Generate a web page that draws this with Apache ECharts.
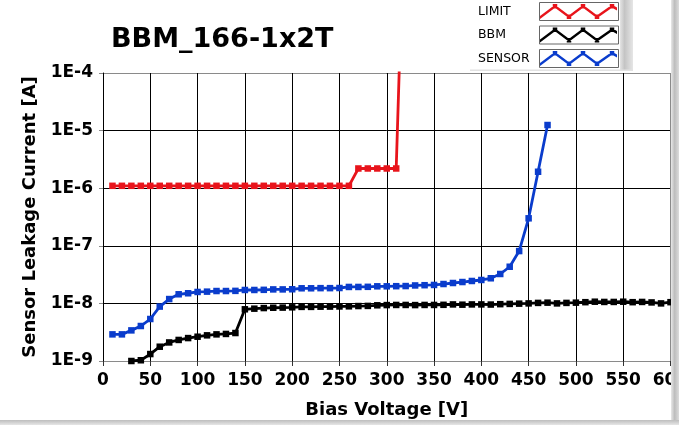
<!DOCTYPE html>
<html>
<head>
<meta charset="utf-8">
<script src="https://cdn.jsdelivr.net/npm/echarts@6/dist/echarts.min.js"></script>
<style>
html,body{margin:0;padding:0;background:#fff;}
#c{width:679px;height:425px;}
</style>
</head>
<body>
<div id="c"></div>
<script>
// ---- data ----
var xTicks = [0, 50, 100, 150, 200, 250, 300, 350, 400, 450, 500, 550, 600];
var yTickLabels = ['1E-9', '1E-8', '1E-7', '1E-6', '1E-5', '1E-4'];

var limitVoltage = [10,20,30,40,50,60,70,80,90,100,110,120,130,140,150,160,170,180,190,200,210,220,230,240,250,260,270,280,290,300,310,315];
var limitCurrent = [1.1e-6,1.1e-6,1.1e-6,1.1e-6,1.1e-6,1.1e-6,1.1e-6,1.1e-6,1.1e-6,1.1e-6,1.1e-6,1.1e-6,1.1e-6,1.1e-6,1.1e-6,1.1e-6,1.1e-6,1.1e-6,1.1e-6,1.1e-6,1.1e-6,1.1e-6,1.1e-6,1.1e-6,1.1e-6,1.1e-6,2.2e-6,2.2e-6,2.2e-6,2.2e-6,2.2e-6,1e-3];

var bbmVoltage = [30,40,50,60,70,80,90,100,110,120,130,140,150,160,170,180,190,200,210,220,230,240,250,260,270,280,290,300,310,320,330,340,350,360,370,380,390,400,410,420,430,440,450,460,470,480,490,500,510,520,530,540,550,560,570,580,590,600];
var bbmCurrent = [1.0e-9,1.03e-9,1.32e-9,1.77e-9,2.1e-9,2.32e-9,2.5e-9,2.64e-9,2.79e-9,2.9e-9,2.95e-9,3.06e-9,7.9e-9,8.1e-9,8.3e-9,8.4e-9,8.45e-9,8.55e-9,8.7e-9,8.7e-9,8.77e-9,8.8e-9,8.85e-9,8.9e-9,9.0e-9,9.05e-9,9.27e-9,9.35e-9,9.4e-9,9.4e-9,9.35e-9,9.4e-9,9.4e-9,9.45e-9,9.6e-9,9.5e-9,9.6e-9,9.6e-9,9.55e-9,9.7e-9,9.8e-9,9.9e-9,1.0e-8,1.02e-8,1.03e-8,1.0e-8,1.02e-8,1.03e-8,1.05e-8,1.07e-8,1.06e-8,1.06e-8,1.07e-8,1.05e-8,1.06e-8,1.04e-8,1.0e-8,1.05e-8];

var sensorVoltage = [10,20,30,40,50,60,70,80,90,100,110,120,130,140,150,160,170,180,190,200,210,220,230,240,250,260,270,280,290,300,310,320,330,340,350,360,370,380,390,400,410,420,430,440,450,460,470];
var sensorCurrent = [2.9e-9,2.9e-9,3.4e-9,4.05e-9,5.36e-9,8.8e-9,1.19e-8,1.44e-8,1.5e-8,1.58e-8,1.6e-8,1.64e-8,1.64e-8,1.65e-8,1.71e-8,1.71e-8,1.72e-8,1.75e-8,1.75e-8,1.76e-8,1.83e-8,1.83e-8,1.84e-8,1.84e-8,1.85e-8,1.93e-8,1.93e-8,1.94e-8,1.98e-8,1.98e-8,1.99e-8,2.0e-8,2.05e-8,2.07e-8,2.09e-8,2.17e-8,2.26e-8,2.35e-8,2.45e-8,2.55e-8,2.73e-8,3.24e-8,4.33e-8,8.1e-8,3.0e-7,1.93e-6,1.25e-5];

var seriesNames = ['LIMIT', 'BBM', 'SENSOR'];
var seriesColors = ['#e8141b', '#000000', '#0a3ccc'];

function pairs(xs, ys) {
  var out = [];
  for (var i = 0; i < xs.length; i++) out.push([xs[i], ys[i]]);
  return out;
}

var FONT = 'DejaVu Sans';
// zigzag legend icon (77 x 15): starts bottom-left, peaks up
var zig = 'path://M0,12 L15,0.75 L29,11.25 L43,0.75 L57,11.25 L72,0.75 L77,3.5 L77,6.5 L72,3.75 L57,14.25 L43,3.75 L29,14.25 L15,3.75 L0,15 Z' +
  ' M12.75,0 L17.25,0 L17.25,4.5 L12.75,4.5 Z' +
  ' M26.75,10.5 L31.25,10.5 L31.25,15 L26.75,15 Z' +
  ' M40.75,0 L45.25,0 L45.25,4.5 L40.75,4.5 Z' +
  ' M54.75,10.5 L59.25,10.5 L59.25,15 L54.75,15 Z' +
  ' M69.75,0 L74.25,0 L74.25,4.5 L69.75,4.5 Z';

var chart = echarts.init(document.getElementById('c'), null, {renderer: 'canvas'});

var xSplitColors = xTicks.map(function (v, i) { return i === xTicks.length - 1 ? '#8a8a8a' : '#000'; });
var ySplitColors = yTickLabels.map(function (v, i) { return i === 0 ? '#8a8a8a' : '#000'; });

function mkSeries(i, data) {
  return {
    name: seriesNames[i],
    type: 'line',
    data: data,
    symbol: 'rect',
    symbolSize: 6.5,
    showSymbol: true,
    clip: true,
    animation: false,
    lineStyle: {color: seriesColors[i], width: 2.8},
    itemStyle: {color: seriesColors[i], borderWidth: 0}
  };
}

function mkLegend(i, top) {
  return {
    orient: 'vertical',
    left: 478,
    top: top,
    padding: 0,
    align: 'right',
    itemWidth: 77,
    itemHeight: 15,
    icon: zig,
    data: [seriesNames[i]],
    itemStyle: {borderWidth: 0},
    formatter: function (name) { return '{t|' + name + '}'; },
    textStyle: {
      fontFamily: FONT, fontSize: 12.5, color: '#000',
      rich: {t: {width: 57, align: 'left', fontFamily: FONT, fontSize: 12.5, color: '#000'}}
    },
    selectedMode: false,
    z: 10
  };
}

var option = {
  backgroundColor: '#ffffff',
  animation: false,
  title: {
    text: 'BBM_166-1x2T',
    left: 106,
    top: 21,
    textStyle: {fontFamily: FONT, fontWeight: 'bold', fontSize: 27, color: '#000'}
  },
  legend: [mkLegend(0, 4), mkLegend(1, 27.5), mkLegend(2, 51)],
  grid: {left: 103, right: 8.5, top: 73, bottom: 64, containLabel: false, outerBoundsMode: 'none'},
  xAxis: {
    type: 'value',
    min: 0,
    max: 600,
    interval: 50,
    name: 'Bias Voltage [V]',
    nameLocation: 'middle',
    nameGap: 40,
    nameTextStyle: {fontFamily: FONT, fontWeight: 'bold', fontSize: 18, color: '#000'},
    axisLine: {show: true, onZero: false, lineStyle: {color: '#8a8a8a', width: 1}},
    axisTick: {show: true, inside: false, length: 5, lineStyle: {color: '#333'}},
    axisLabel: {fontFamily: FONT, fontWeight: 'bold', fontSize: 17, color: '#000', margin: 11, showMaxLabel: true, showMinLabel: true, hideOverlap: false},
    splitLine: {show: true, lineStyle: {color: xSplitColors, width: 1}}
  },
  yAxis: {
    type: 'log',
    logBase: 10,
    min: 1e-9,
    max: 1e-4,
    name: 'Sensor Leakage Current [A]',
    nameLocation: 'middle',
    nameGap: 63,
    nameTextStyle: {fontFamily: FONT, fontWeight: 'bold', fontSize: 18, color: '#000'},
    axisLine: {show: true, lineStyle: {color: '#000', width: 1}},
    axisTick: {show: true, inside: false, length: 4, lineStyle: {color: '#888'}},
    axisLabel: {
      fontFamily: FONT, fontWeight: 'bold', fontSize: 17, color: '#000', margin: 10,
      formatter: function (v) {
        var e = Math.round(Math.log(v) / Math.LN10);
        return yTickLabels[e + 9];
      }
    },
    splitLine: {show: true, lineStyle: {color: ySplitColors, width: 1}}
  },
  series: [
    mkSeries(1, pairs(bbmVoltage, bbmCurrent)),
    mkSeries(2, pairs(sensorVoltage, sensorCurrent)),
    mkSeries(0, pairs(limitVoltage, limitCurrent))
  ],
  graphic: [
    // legend icon frames
    {type: 'rect', shape: {x: 539.5, y: 2.5, width: 79, height: 18}, style: {fill: '#fff', stroke: '#666', lineWidth: 1}, z: 1},
    {type: 'rect', shape: {x: 539.5, y: 26, width: 79, height: 18}, style: {fill: '#fff', stroke: '#666', lineWidth: 1}, z: 1},
    {type: 'rect', shape: {x: 539.5, y: 49.5, width: 79, height: 18}, style: {fill: '#fff', stroke: '#666', lineWidth: 1}, z: 1},
    // legend panel shadow
    {type: 'rect', shape: {x: 620, y: 0, width: 13, height: 71},
      style: {fill: new echarts.graphic.LinearGradient(0, 0, 1, 0, [
        {offset: 0, color: '#e4e4e4'}, {offset: 0.35, color: '#c4c4c4'}, {offset: 1, color: '#e6e6e6'}])}, z: 1},
    {type: 'rect', shape: {x: 470, y: 69.5, width: 163, height: 1.5}, style: {fill: '#e2e2e2'}, z: 1},
    // right edge strip
    {type: 'rect', shape: {x: 671, y: 0, width: 8, height: 425},
      style: {fill: new echarts.graphic.LinearGradient(0, 0, 1, 0, [
        {offset: 0, color: '#e8e8e8'}, {offset: 0.45, color: '#bdbdbd'}, {offset: 1, color: '#dcdcdc'}])}, z: 100},
    // bottom edge strip
    {type: 'rect', shape: {x: 0, y: 420, width: 679, height: 5},
      style: {fill: new echarts.graphic.LinearGradient(0, 0, 0, 1, [
        {offset: 0, color: '#bdbdbd'}, {offset: 1, color: '#e6e6e6'}])}, z: 100}
  ]
};

chart.setOption(option);
</script>
</body>
</html>
